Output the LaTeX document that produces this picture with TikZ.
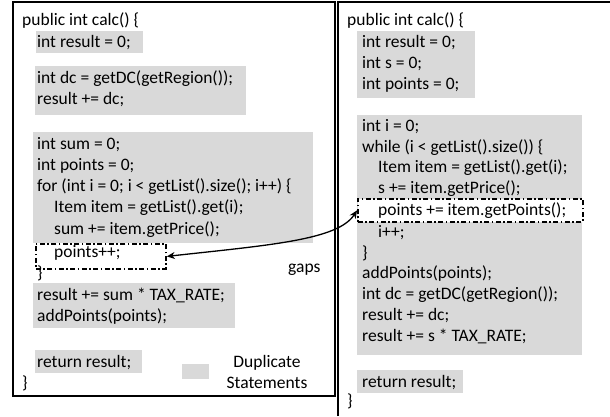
\documentclass[tikz,border=0pt]{standalone}
\usepackage{fontspec}
\setmainfont{Carlito}
\usetikzlibrary{arrows.meta}
\definecolor{dupgray}{RGB}{217,217,217}
\begin{document}
\begin{tikzpicture}[x=1pt,y=-1pt,
  code/.style={anchor=base west,inner sep=0pt,font=\fontsize{17.5}{21}\selectfont},
  legend/.style={anchor=base,inner sep=0pt,font=\fontsize{17.5}{21}\selectfont},
  dup/.style={fill=dupgray},
  gapbox/.style={draw=black,fill=white,line width=1.8pt,
    dash pattern=on 5pt off 2.5pt on 1.5pt off 2.5pt,
    anchor=north west,inner sep=0pt,rectangle},
  frame/.style={draw=black,line width=1.4pt},
  link/.style={{Stealth[length=8pt,width=7pt]}-{Stealth[length=8pt,width=7pt]},line width=1.3pt}
]
\useasboundingbox (0,0) rectangle (610,416);
% duplicate statement backgrounds (left)
\fill[dup] (36,31) rectangle (143,53);
\fill[dup] (35,66) rectangle (246,115);
\fill[dup] (33,132) rectangle (313,243);
\fill[dup] (33,283) rectangle (235,328);
\fill[dup] (35,350) rectangle (142,373);
% legend swatch
\fill[dup] (182,364) rectangle (209,379);
% duplicate statement backgrounds (right)
\fill[dup] (357,31) rectangle (475,98);
\fill[dup] (357,115) rectangle (582,355);
\fill[dup] (357,370) rectangle (463,393);
% gap boxes
\node[gapbox,minimum width=130pt,minimum height=25pt] (ldash) at (35,243) {};
\node[gapbox,minimum width=225pt,minimum height=23pt] (rdash) at (357,198) {};
% frames
\draw[frame] (13,2) rectangle (335,396);
\draw[frame] (338,416) -- (338,2) -- (610,2);
% left code
\node[code] (l1) at (22,25) {public int calc() \{};
\node[code] (l2) at (37,47) {int result = 0;};
\node[code] (l3) at (37,83) {int dc = getDC(getRegion());};
\node[code] (l4) at (37,104.5) {result += dc;};
\node[code] (l5) at (37,149) {int sum = 0;};
\node[code] (l6) at (37,170) {int points = 0;};
\node[code] (l7) at (37,191.5) {for (int i = 0; i < getList().size(); i++) \{};
\node[code] (l8) at (54,212.5) {Item item = getList().get(i);};
\node[code] (l9) at (54,234) {sum += item.getPrice();};
\node[code] (l10) at (54,257) {points++;};
\node[code] (l11) at (37,278) {\}};
\node[code] (l12) at (37,300) {result += sum * TAX\_RATE;};
\node[code] (l13) at (37,321) {addPoints(points);};
\node[code] (l14) at (37,367) {return result;};
\node[code] (l15) at (22,388) {\}};
% legend
\node[legend] (lg1) at (267,367) {Duplicate};
\node[legend] (lg2) at (267,388) {Statements};
% right code
\node[code] (r1) at (347,25) {public int calc() \{};
\node[code] (r2) at (362,47) {int result = 0;};
\node[code] (r3) at (362,68) {int s = 0;};
\node[code] (r4) at (362,89.5) {int points = 0;};
\node[code] (r5) at (362,131) {int i = 0;};
\node[code] (r6) at (362,152) {while (i < getList().size()) \{};
\node[code] (r7) at (378,172.5) {Item item = getList().get(i);};
\node[code] (r8) at (378,193) {s += item.getPrice();};
\node[code] (r9) at (378,215) {points += item.getPoints();};
\node[code] (r10) at (378,237.5) {i++;};
\node[code] (r11) at (362,258) {\}};
\node[code] (r12) at (362,278.5) {addPoints(points);};
\node[code] (r13) at (362,299.5) {int dc = getDC(getRegion());};
\node[code] (r14) at (362,320.5) {result += dc;};
\node[code] (r15) at (362,341.5) {result += s * TAX\_RATE;};
\node[code] (r16) at (362,387) {return result;};
\node[code] (r17) at (347,406) {\}};
% gaps label and link
\node[code] (gaps) at (288,272) {gaps};
\draw[link] (ldash.east) .. controls (270,245) and (338,240) .. (rdash.west);
\end{tikzpicture}
\end{document}
